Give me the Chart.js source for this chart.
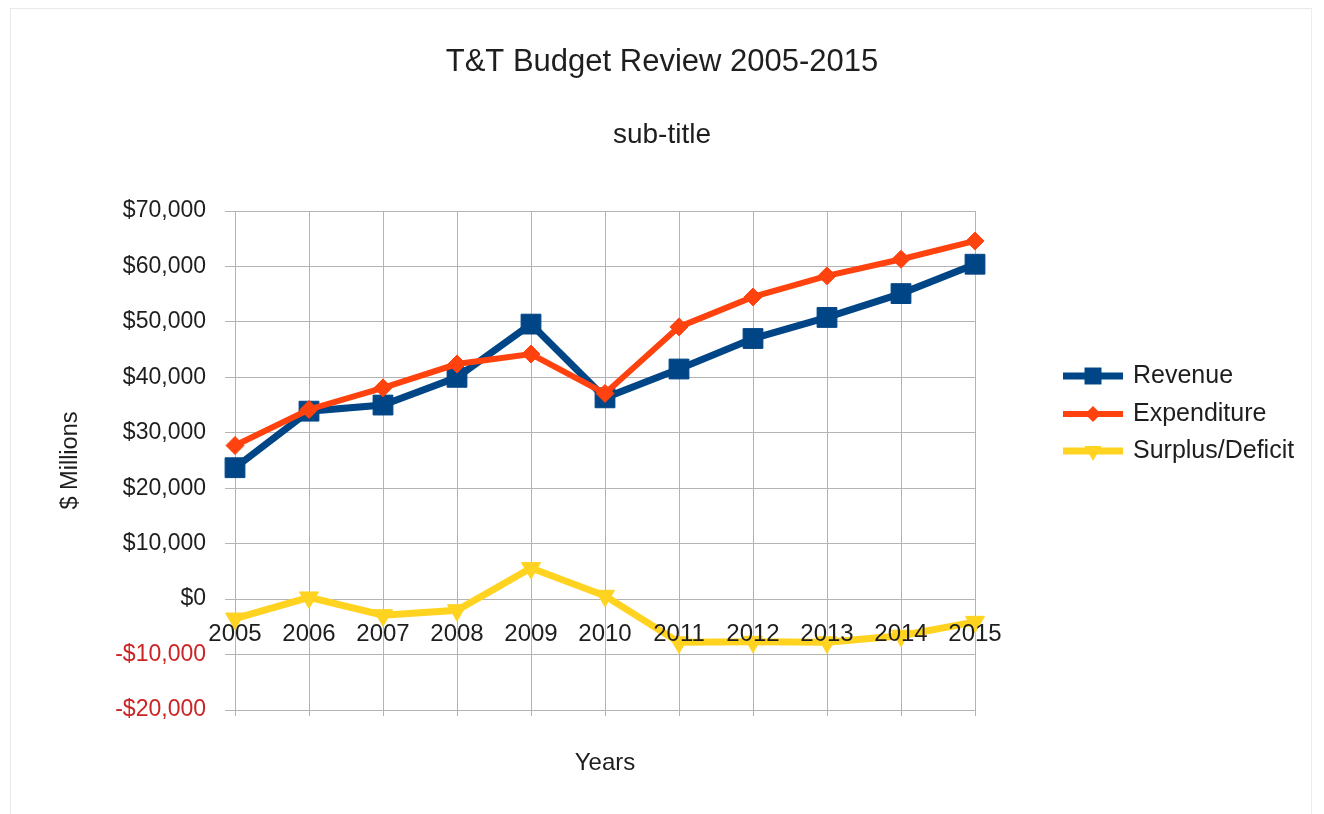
<!DOCTYPE html>
<html>
<head>
<meta charset="utf-8">
<script src="https://cdn.jsdelivr.net/npm/chart.js@4/dist/chart.umd.min.js"></script>
<style>
  html, body { margin: 0; padding: 0; background: #ffffff; }
  #wrap { position: relative; width: 1324px; height: 814px; }
  #frame { position: absolute; left: 10px; top: 8px; width: 1300px; height: 810px;
           border-left: 1px solid #e9e9e9; border-top: 1px solid #e9e9e9; border-right: 1px solid #ededed;
           pointer-events: none; }
  canvas { display: block; }
</style>
</head>
<body>
<div id="wrap">
  <canvas id="c" width="1324" height="814"></canvas>
  <div id="frame"></div>
</div>
<script>
// ---- Data ----
const years = ['2005','2006','2007','2008','2009','2010','2011','2012','2013','2014','2015'];
const revenue = [23700, 33900, 35000, 40000, 49600, 36300, 41500, 47000, 50800, 55100, 60400];
const expenditure = [27700, 34200, 38100, 42400, 44200, 37100, 49100, 54500, 58300, 61300, 64600];
const surplus = [-3500, 300, -2900, -2000, 5600, 600, -7800, -7700, -7800, -6600, -4100];
const seriesNames = ['Revenue', 'Expenditure', 'Surplus/Deficit'];
const yMin = -20000, yMax = 70000, yStep = 10000;

const FONT = '"Liberation Sans", Arial, sans-serif';
const TEXT = '#1e1e1e';
const NEG = '#cc2424';
const GRID = '#b3b3b3';

function fmtMoney(v) {
  return (v < 0 ? '-' : '') + '$' + Math.abs(v).toLocaleString('en-US');
}

function drawMarker(ctx, style, x, y, r, color) {
  ctx.save();
  ctx.fillStyle = color;
  ctx.beginPath();
  if (style === 'rect') {
    const s = r * Math.SQRT1_2;
    ctx.rect(x - s, y - s, 2 * s, 2 * s);
  } else if (style === 'rectRot') {
    ctx.moveTo(x - r, y); ctx.lineTo(x, y - r); ctx.lineTo(x + r, y); ctx.lineTo(x, y + r);
    ctx.closePath();
  } else {
    const h = r * 0.866;
    ctx.moveTo(x - h, y - r / 2); ctx.lineTo(x + h, y - r / 2); ctx.lineTo(x, y + r);
    ctx.closePath();
  }
  ctx.fill();
  ctx.restore();
}

const sideLegend = {
  id: 'sideLegend',
  afterDraw(chart) {
    const ctx = chart.ctx;
    const x0 = 1063, x1 = 1123, tx = 1133;
    const ys = [376, 414, 451];
    chart.data.datasets.forEach((ds, i) => {
      const y = ys[i];
      ctx.save();
      ctx.strokeStyle = ds.borderColor;
      ctx.lineWidth = ds.borderWidth;
      ctx.beginPath(); ctx.moveTo(x0, y); ctx.lineTo(x1, y); ctx.stroke();
      drawMarker(ctx, ds.pointStyle, (x0 + x1) / 2, y, ds.legendMarker, ds.borderColor);
      ctx.fillStyle = TEXT;
      ctx.font = '25px ' + FONT;
      ctx.textBaseline = 'middle';
      ctx.textAlign = 'left';
      ctx.fillText(ds.label, tx, y);
      ctx.restore();
    });
  }
};

new Chart(document.getElementById('c'), {
  type: 'line',
  data: {
    labels: years,
    datasets: [
      {
        label: seriesNames[0], data: revenue,
        borderColor: '#004586', backgroundColor: '#004586',
        borderWidth: 7, pointStyle: 'rect', pointRadius: 14, pointBorderWidth: 1,
        pointBackgroundColor: '#004586', pointBorderColor: '#004586',
        tension: 0, order: 3, clip: false, legendMarker: 12
      },
      {
        label: seriesNames[1], data: expenditure,
        borderColor: '#ff420e', backgroundColor: '#ff420e',
        borderWidth: 6, pointStyle: 'rectRot', pointRadius: 9, pointBorderWidth: 1,
        pointBackgroundColor: '#ff420e', pointBorderColor: '#ff420e',
        tension: 0, order: 2, clip: false, legendMarker: 8
      },
      {
        label: seriesNames[2], data: surplus,
        borderColor: '#ffd320', backgroundColor: '#ffd320',
        borderWidth: 7, pointStyle: 'triangle', pointRotation: 180, pointRadius: 11, pointBorderWidth: 1,
        pointBackgroundColor: '#ffd320', pointBorderColor: '#ffd320',
        tension: 0, order: 1, clip: false, legendMarker: 10
      }
    ]
  },
  options: {
    responsive: false,
    devicePixelRatio: 1,
    animation: false,
    layout: { padding: { left: 10, right: 10, top: 10, bottom: 10 } },
    plugins: {
      legend: { display: false },
      tooltip: { enabled: false },
      title: {
        display: true, text: 'T&T Budget Review 2005-2015', color: TEXT,
        font: { family: FONT, size: 31, weight: 'normal' },
        padding: { top: 33.4, bottom: 0 }
      },
      subtitle: {
        display: true, text: 'sub-title', color: TEXT,
        font: { family: FONT, size: 28, weight: 'normal' },
        padding: { top: 37.6, bottom: 59.2 }
      }
    },
    scales: {
      x: {
        type: 'category', position: 'bottom', offset: false,
        grid: { color: GRID, lineWidth: 1, drawTicks: true, tickLength: 6, tickColor: GRID },
        border: { color: GRID, width: 1 },
        ticks: { display: false },
        title: {
          display: true, text: 'Years', color: TEXT,
          font: { family: FONT, size: 24 },
          padding: { top: 32.6, bottom: 26.6 }
        }
      },
      x2: {
        type: 'category', labels: years, position: { y: 0 }, offset: false,
        grid: { display: false, drawTicks: false },
        border: { display: false },
        ticks: {
          z: 1,
          color: TEXT, font: { family: FONT, size: 24 }, padding: 21,
          maxRotation: 0, minRotation: 0, autoSkip: false
        },
        afterFit: (s) => { s.height = 0; }
      },
      y: {
        type: 'linear', position: 'left', min: yMin, max: yMax,
        grid: { color: GRID, lineWidth: 1, drawTicks: true, tickLength: 10, tickColor: GRID },
        border: { color: GRID, width: 1 },
        ticks: {
          stepSize: yStep, padding: 19,
          font: { family: FONT, size: 23 },
          color: (c) => (c.tick && c.tick.value < 0 ? NEG : TEXT),
          callback: (v) => fmtMoney(v)
        },
        title: {
          display: true, text: '$ Millions', color: TEXT,
          font: { family: FONT, size: 23.5 },
          padding: { top: 46.9, bottom: 0 }
        },
        afterFit: (s) => { s.width = 225; }
      },
      r: {
        type: 'linear', position: 'right', display: true,
        grid: { display: false, drawTicks: false },
        border: { display: false },
        ticks: { display: false },
        afterFit: (s) => { s.width = 339; }
      }
    }
  },
  plugins: [sideLegend]
});
</script>
</body>
</html>
